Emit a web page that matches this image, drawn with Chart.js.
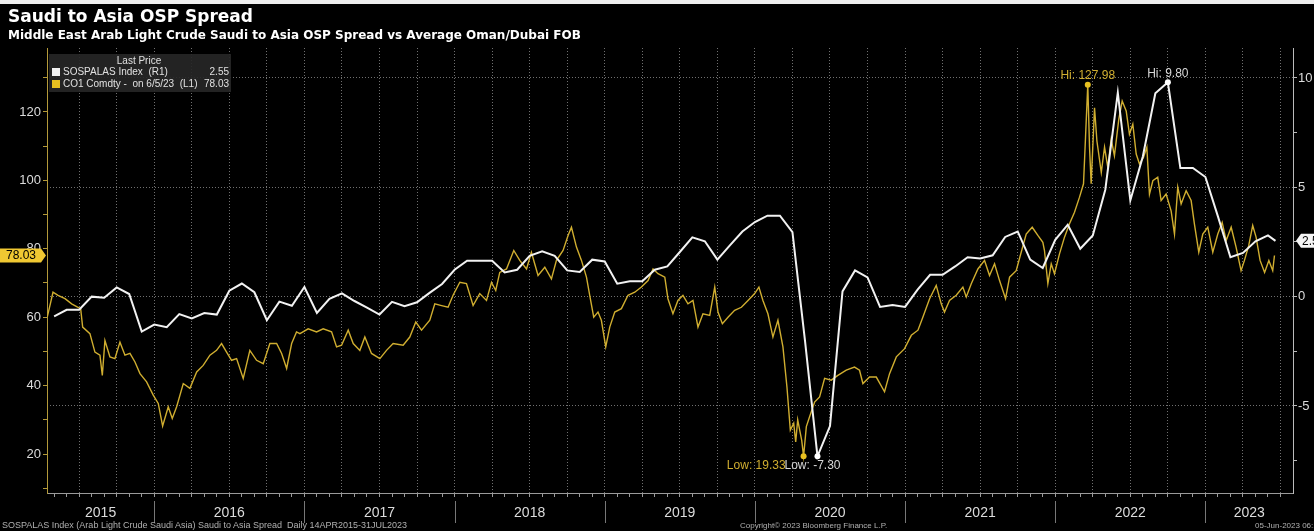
<!DOCTYPE html>
<html>
<head>
<meta charset="utf-8">
<script src="https://cdn.jsdelivr.net/npm/chart.js@4.4.0/dist/chart.umd.min.js"></script>
<style>
html, body { margin: 0; padding: 0; background: #000; }
#wrap { position: relative; width: 1314px; height: 531px; overflow: hidden; background: #000; }
#topstrip { position: absolute; left: 0; top: 0; width: 1314px; height: 4px; background: #eee; }
canvas { position: absolute; left: 0; top: 0; }
.t { position: absolute; white-space: nowrap; color: #fff; font-family: "DejaVu Sans", sans-serif; font-weight: bold; }
.f { position: absolute; white-space: nowrap; color: #b0b0b0; font-family: "Liberation Sans Narrow", "Liberation Sans", sans-serif; font-size: 8px; }
</style>
</head>
<body>
<div id="wrap">
  <div id="topstrip"></div>
  <canvas id="c" width="1314" height="531"></canvas>
  <div class="t" style="left:8px;top:6px;font-size:17px;">Saudi to Asia OSP Spread</div>
  <div class="t" style="left:8px;top:28px;font-size:12px;">Middle East Arab Light Crude Saudi to Asia OSP Spread vs Average Oman/Dubai FOB</div>
  <div class="f" style="left:2px;top:520px;font-size:9px;">SOSPALAS Index (Arab Light Crude Saudi Asia) Saudi to Asia Spread&nbsp; Daily 14APR2015-31JUL2023</div>
  <div class="f" style="left:740px;top:521px;">Copyright&copy; 2023 Bloomberg Finance L.P.</div>
  <div class="f" style="left:1255px;top:521px;">05-Jun-2023 06:19:54</div>
</div>
<script>
// x values are months counted from Jan 2015 (0 = Jan 2015, 12 = Jan 2016 ...)
const xMin = 3.43;   // 14 Apr 2015
const xMax = 103;    // 31 Jul 2023
const years = [2015, 2016, 2017, 2018, 2019, 2020, 2021, 2022, 2023];
const leftTicks = [10, 20, 30, 40, 50, 60, 70, 80, 90, 100, 110, 120, 130];
const leftTickLabels = [20, 40, 60, 80, 100, 120];
const rightTicks = [-7.5, -5, -2.5, 0, 2.5, 5, 7.5, 10];
const rightTickLabels = [-5, 0, 5, 10];

// SOSPALAS Index (R1), monthly, starting May 2015
const ospStart = 4;
const ospValues = [
  -0.9, -0.6, -0.6, 0.0, -0.05, 0.42, 0.12, -1.6,
  -1.28, -1.4, -0.8, -1.0, -0.75, -0.82, 0.27, 0.6, 0.2, -1.08, -0.23, -0.42,
  0.44, -0.75, -0.1, 0.15, -0.2, -0.5, -0.82, -0.24, -0.44, -0.26, 0.17, 0.58,
  1.23, 1.64, 1.64, 1.64, 1.11, 1.23, 1.87, 2.07, 1.87, 1.2, 1.13, 1.69,
  1.61, 0.59, 0.7, 0.7, 1.23, 1.38, 2.04, 2.71, 2.53, 1.69, 2.34, 2.98,
  3.41, 3.7, 3.7, 2.95, -2.0, -7.3, -5.92, 0.24, 1.2, 0.88, -0.47, -0.38,
  -0.47, 0.32, 1.0, 1.0, 1.38, 1.8, 1.74, 1.89, 2.73, 2.98, 1.69, 1.31,
  2.6, 3.29, 2.19, 2.8, 4.89, 9.33, 4.4, 6.41, 9.3, 9.8, 5.88, 5.88,
  5.47, 3.67, 1.8, 2.0, 2.53, 2.8
];
const ospLastX = 101.6;
const ospLast = 2.55;

// CO1 Comdty (L1), Brent front month
const brentX = [
  3.45, 3.91, 4.31, 4.87, 5.40, 5.80, 6.12, 6.28, 6.86, 7.26, 7.66, 7.85, 8.06, 8.46, 8.86, 9.26,
  9.66, 10.06, 10.46, 10.86, 11.39, 11.92, 12.32, 12.67, 13.12, 13.44, 13.79, 14.32, 14.85, 15.39,
  15.91, 16.45, 16.98, 17.38, 17.78, 18.18, 18.58, 19.11, 19.64, 20.18, 20.71, 21.24, 21.78, 22.18,
  22.58, 22.98, 23.37, 23.64, 24.30, 24.97, 25.50, 26.17, 26.57, 26.97, 27.50, 27.90, 28.43, 28.83,
  29.36, 30.03, 30.56, 31.09, 31.89, 32.42, 32.90, 33.36, 34.02, 34.42, 34.96, 35.48, 35.88, 36.42,
  36.95, 37.48, 38.01, 38.55, 38.95, 39.29, 39.61, 40.15, 40.73, 41.21, 41.75, 42.14, 42.67, 43.21,
  43.74, 44.14, 44.67, 45.07, 45.34, 45.74, 46.14, 46.54, 46.80, 47.12, 47.46, 47.73, 48.08, 48.40,
  48.80, 49.33, 49.86, 50.40, 50.93, 51.46, 51.86, 52.26, 52.80, 53.05, 53.45, 53.85, 54.25, 54.65,
  55.05, 55.45, 55.85, 56.39, 56.79, 57.05, 57.40, 57.85, 58.38, 58.92, 59.45, 59.98, 60.32, 60.64,
  61.04, 61.44, 61.84, 62.24, 62.56, 62.83, 63.10, 63.26, 63.42, 63.58, 63.74, 63.89, 64.11, 64.37,
  64.77, 65.17, 65.57, 66.10, 66.63, 67.30, 67.96, 68.36, 68.63, 69.16, 69.70, 70.36, 70.76, 71.30,
  71.96, 72.50, 73.03, 73.42, 73.96, 74.49, 74.89, 75.15, 75.55, 76.09, 76.62, 76.89, 77.29, 77.82,
  78.35, 78.75, 79.15, 79.55, 80.03, 80.35, 80.88, 81.28, 81.68, 82.16, 82.61, 83.01, 83.14, 83.41,
  83.68, 83.94, 84.34, 84.74, 85.14, 85.54, 85.94, 86.26, 86.42, 86.60, 86.74, 86.87, 87.14, 87.33,
  87.68, 87.94, 88.20, 88.47, 88.73, 89.08, 89.35, 89.67, 89.93, 90.20, 90.47, 90.73, 91.05, 91.32,
  91.53, 91.80, 92.19, 92.46, 92.86, 93.26, 93.53, 93.79, 94.06, 94.46, 94.86, 95.12, 95.47, 95.79,
  96.19, 96.59, 96.99, 97.34, 97.66, 98.06, 98.45, 98.85, 99.12, 99.46, 99.78, 100.05, 100.37, 100.73,
  101.07, 101.38, 101.52
];
const brentValues = [
  60, 67.3, 66.4, 65.4, 63.9, 63.1, 62.5, 57.1, 55.2, 49.8, 48.9, 43, 53.2, 48.4, 47.9, 52.7,
  48.9, 49.4, 46.9, 43.5, 41.1, 37.2, 34.8, 28.2, 33.8, 30.4, 33.8, 40.6, 39.2, 44,
  45.9, 48.9, 50.3, 52.3, 49.8, 47.4, 47.9, 42.1, 50.3, 47.4, 46.4, 52.3, 52.3, 49.4,
  45, 52.3, 55.7, 55.2, 56.6, 55.7, 56.6, 55.7, 51.3, 51.8, 56.2, 52.3, 50.3, 54.2,
  49.4, 47.9, 50.3, 52.3, 51.8, 54.2, 58.6, 56.2, 59.1, 63.9, 63.4, 62.9, 66.4, 70.2,
  69.8, 63.4, 66.9, 64.9, 70.2, 67.8, 73.1, 74.1, 79.5, 76.6, 74.1, 79, 72.2, 74.6,
  71.2, 76.6, 79.5, 83.9, 86.3, 80.5, 76.6, 71.7, 66.4, 60, 61.5, 59.1, 51.3, 57.1,
  61.5, 62.5, 66.4, 67.3, 68.8, 70.7, 74.1, 72.7, 71.7, 65.4, 61, 64.9, 66.4, 63.9,
  64.9, 57.1, 61, 60.5, 68.8, 61.5, 58.1, 60, 62, 62.9, 64.9, 66.9, 68.8, 64.9,
  61, 54.2, 59.1, 51.3, 39.6, 27, 29, 23.5, 30, 27, 24, 19.33, 28, 30.9,
  35.2, 36.7, 42.1, 41.6, 43, 44.5, 45.4, 44.5, 40.6, 42.5, 42.5, 38.2, 43.5, 48.4,
  50.8, 54.7, 56.2, 60, 65.4, 69.3, 63.9, 61.5, 64.9, 66.4, 68.8, 65.9, 69.8, 74.1,
  76.6, 72.2, 75.6, 70.7, 65.4, 71.7, 73.6, 79, 84.3, 86.3, 83.9, 81.9, 79.5, 69.8,
  75.6, 72.7, 78.5, 83.4, 87.3, 90.7, 95.1, 99, 112.6, 127.98, 109.7, 99, 121.2, 111.5,
  102.3, 109.7, 103.8, 112, 107.2, 117.9, 123.2, 120.3, 113.5, 116.4, 107.7, 104.8, 106.7, 109.7,
  96, 99.9, 100.9, 94.1, 96, 91.1, 84.3, 98, 93.1, 97, 94.1, 87.3, 79, 84.3,
  86.3, 79, 84.3, 87.7, 82.4, 86.3, 80.5, 73.6, 76.6, 80.9, 86.8, 83.4, 76.6, 73.1,
  76.6, 73.6, 78.03
];

const GOLD = '#d0ae30';
const WHITE = '#f2f2f2';
const NARROW = '"Liberation Sans Narrow", "Liberation Sans", sans-serif';

const ospData = ospValues.map((v, i) => ({ x: ospStart + i, y: v }));
ospData.push({ x: ospLastX, y: ospLast });
const brentData = brentX.map((x, i) => ({ x: x, y: brentValues[i] }));

const monthTicks = [];
for (let m = 4; m <= 102; m++) monthTicks.push(m);

function idxOfMax(arr) { let b = 0; arr.forEach((v, i) => { if (v > arr[b]) b = i; }); return b; }
function idxOfMin(arr) { let b = 0; arr.forEach((v, i) => { if (v < arr[b]) b = i; }); return b; }

const decor = {
  id: 'decor',
  afterDraw(chart) {
    const ctx = chart.ctx;
    const xs = chart.scales.x, yl = chart.scales.yL, yr = chart.scales.yR;
    const area = chart.chartArea;
    ctx.save();

    // year separators and labels under the axis
    ctx.font = '14px ' + NARROW;
    ctx.fillStyle = '#dcdcdc';
    ctx.textAlign = 'center';
    ctx.textBaseline = 'middle';
    years.forEach(y => {
      const s = Math.max(xMin, (y - 2015) * 12);
      const e = Math.min(xMax, (y - 2014) * 12);
      const cx = (xs.getPixelForValue(s) + xs.getPixelForValue(e)) / 2;
      ctx.fillText(String(y), cx, 513);
      if (y > 2015) {
        const px = Math.round(xs.getPixelForValue((y - 2015) * 12)) + 0.5;
        ctx.strokeStyle = '#777';
        ctx.lineWidth = 1;
        ctx.beginPath(); ctx.moveTo(px, 501); ctx.lineTo(px, 523); ctx.stroke();
      }
    });

    // legend box
    ctx.fillStyle = 'rgba(38,38,38,0.92)';
    ctx.fillRect(49, 54, 182, 38);
    ctx.font = '10px ' + NARROW;
    ctx.fillStyle = '#e0e0e0';
    ctx.textAlign = 'center';
    ctx.fillText('Last Price', 139, 61);
    ctx.textAlign = 'left';
    ctx.fillStyle = WHITE; ctx.fillRect(52, 68, 8, 8);
    ctx.fillStyle = '#e8c020'; ctx.fillRect(52, 80, 8, 8);
    ctx.fillStyle = '#e0e0e0';
    ctx.fillText('SOSPALAS Index  (R1)', 63, 72);
    ctx.fillText('CO1 Comdty -  on 6/5/23  (L1)', 63, 84);
    ctx.textAlign = 'right';
    ctx.fillText(ospLast.toFixed(2), 229, 72);
    ctx.fillText(brentValues[brentValues.length - 1].toFixed(2), 229, 84);

    // Hi / Low markers
    const bMeta = chart.getDatasetMeta(1).data;
    const oMeta = chart.getDatasetMeta(0).data;
    const oVals = ospData.map(d => d.y);
    const bHi = bMeta[idxOfMax(brentValues)], bLo = bMeta[idxOfMin(brentValues)];
    const oHi = oMeta[idxOfMax(oVals)], oLo = oMeta[idxOfMin(oVals)];
    const dot = (p, col) => { ctx.fillStyle = col; ctx.beginPath(); ctx.arc(p.x, p.y, 3, 0, Math.PI * 2); ctx.fill(); };
    dot(bHi, '#e8c020'); dot(bLo, '#e8c020'); dot(oHi, '#fff'); dot(oLo, '#fff');
    ctx.font = '12px ' + NARROW;
    ctx.textBaseline = 'middle';
    ctx.textAlign = 'center';
    ctx.fillStyle = GOLD;
    ctx.fillText('Hi: ' + Math.max(...brentValues).toFixed(2), bHi.x, bHi.y - 9);
    ctx.fillStyle = '#d8d8d8';
    ctx.fillText('Hi: ' + Math.max(...oVals).toFixed(2), oHi.x, oHi.y - 9);
    ctx.textAlign = 'right';
    ctx.fillStyle = GOLD;
    ctx.fillText('Low: ' + Math.min(...brentValues).toFixed(2), bLo.x - 18, bLo.y + 9);
    ctx.textAlign = 'left';
    ctx.fillStyle = '#d8d8d8';
    ctx.fillText('Low: ' + Math.min(...oVals).toFixed(2), oLo.x - 33, oLo.y + 9);

    // last value tags on the axes
    const ly = yl.getPixelForValue(brentValues[brentValues.length - 1]);
    ctx.fillStyle = '#f0c832';
    ctx.beginPath();
    ctx.moveTo(0, ly - 7); ctx.lineTo(41, ly - 7); ctx.lineTo(46, ly); ctx.lineTo(41, ly + 7); ctx.lineTo(0, ly + 7);
    ctx.closePath(); ctx.fill();
    ctx.fillStyle = '#000';
    ctx.font = '12px ' + NARROW;
    ctx.textAlign = 'center';
    ctx.fillText(brentValues[brentValues.length - 1].toFixed(2), 21, ly + 0.5);

    const ry = yr.getPixelForValue(ospLast);
    const rx = area.right + 3;
    ctx.fillStyle = '#f4f4f4';
    ctx.beginPath();
    ctx.moveTo(rx, ry); ctx.lineTo(rx + 5, ry - 7); ctx.lineTo(rx + 40, ry - 7); ctx.lineTo(rx + 40, ry + 7); ctx.lineTo(rx + 5, ry + 7);
    ctx.closePath(); ctx.fill();
    ctx.fillStyle = '#000';
    ctx.textAlign = 'left';
    ctx.fillText(ospLast.toFixed(2), rx + 6, ry + 0.5);

    ctx.restore();
  }
};

new Chart(document.getElementById('c'), {
  type: 'line',
  data: {
    datasets: [
      { label: 'SOSPALAS Index (R1)', data: ospData, yAxisID: 'yR', borderColor: WHITE, borderWidth: 2, pointRadius: 0, tension: 0 },
      { label: 'CO1 Comdty (L1)', data: brentData, yAxisID: 'yL', borderColor: GOLD, borderWidth: 1.4, pointRadius: 0, tension: 0 }
    ]
  },
  options: {
    responsive: false,
    animation: false,
    events: [],
    layout: { padding: { top: 48, left: 0, right: 0, bottom: 0 } },
    plugins: { legend: { display: false }, tooltip: { enabled: false }, title: { display: false } },
    scales: {
      x: {
        type: 'linear', min: xMin, max: xMax,
        afterBuildTicks: s => { s.ticks = monthTicks.map(v => ({ value: v })); },
        afterFit: s => { s.height = 38; },
        ticks: { autoSkip: false, maxRotation: 0, callback: () => '', font: { size: 1 } },
        grid: {
          color: c => (c.tick && c.tick.value % 3 === 0) ? 'rgba(150,150,150,0.75)' : 'rgba(0,0,0,0)',
          lineWidth: 1, tickLength: 4, tickColor: '#9a9a9a', drawTicks: true
        },
        border: { color: '#9a9a9a', width: 1, dash: [1, 2] }
      },
      yL: {
        type: 'linear', position: 'left', min: 8.6, max: 138.7,
        afterBuildTicks: s => { s.ticks = leftTicks.map(v => ({ value: v })); },
        afterFit: s => { s.width = 47; },
        ticks: {
          autoSkip: false, color: '#dcdcdc', padding: 2,
          font: { family: NARROW, size: 13 },
          callback: v => leftTickLabels.includes(Math.round(v)) ? String(Math.round(v)) : ''
        },
        grid: { drawOnChartArea: false, tickLength: 4, tickColor: '#b49a3a' },
        border: { color: '#b49a3a', width: 1 }
      },
      yR: {
        type: 'linear', position: 'right', min: -8.98, max: 11.37,
        afterBuildTicks: s => { s.ticks = rightTicks.map(v => ({ value: v })); },
        afterFit: s => { s.width = 21; },
        ticks: {
          autoSkip: false, color: '#dcdcdc', padding: 1,
          font: { family: NARROW, size: 13 },
          callback: v => rightTickLabels.includes(v) ? String(v) : ''
        },
        grid: {
          color: c => (c.tick && c.tick.value % 5 === 0) ? 'rgba(150,150,150,0.75)' : 'rgba(0,0,0,0)',
          lineWidth: 1, tickLength: 4, tickColor: '#bbbbbb'
        },
        border: { color: '#bbbbbb', width: 1, dash: [1, 2] }
      }
    }
  },
  plugins: [decor]
});
</script>
</body>
</html>
